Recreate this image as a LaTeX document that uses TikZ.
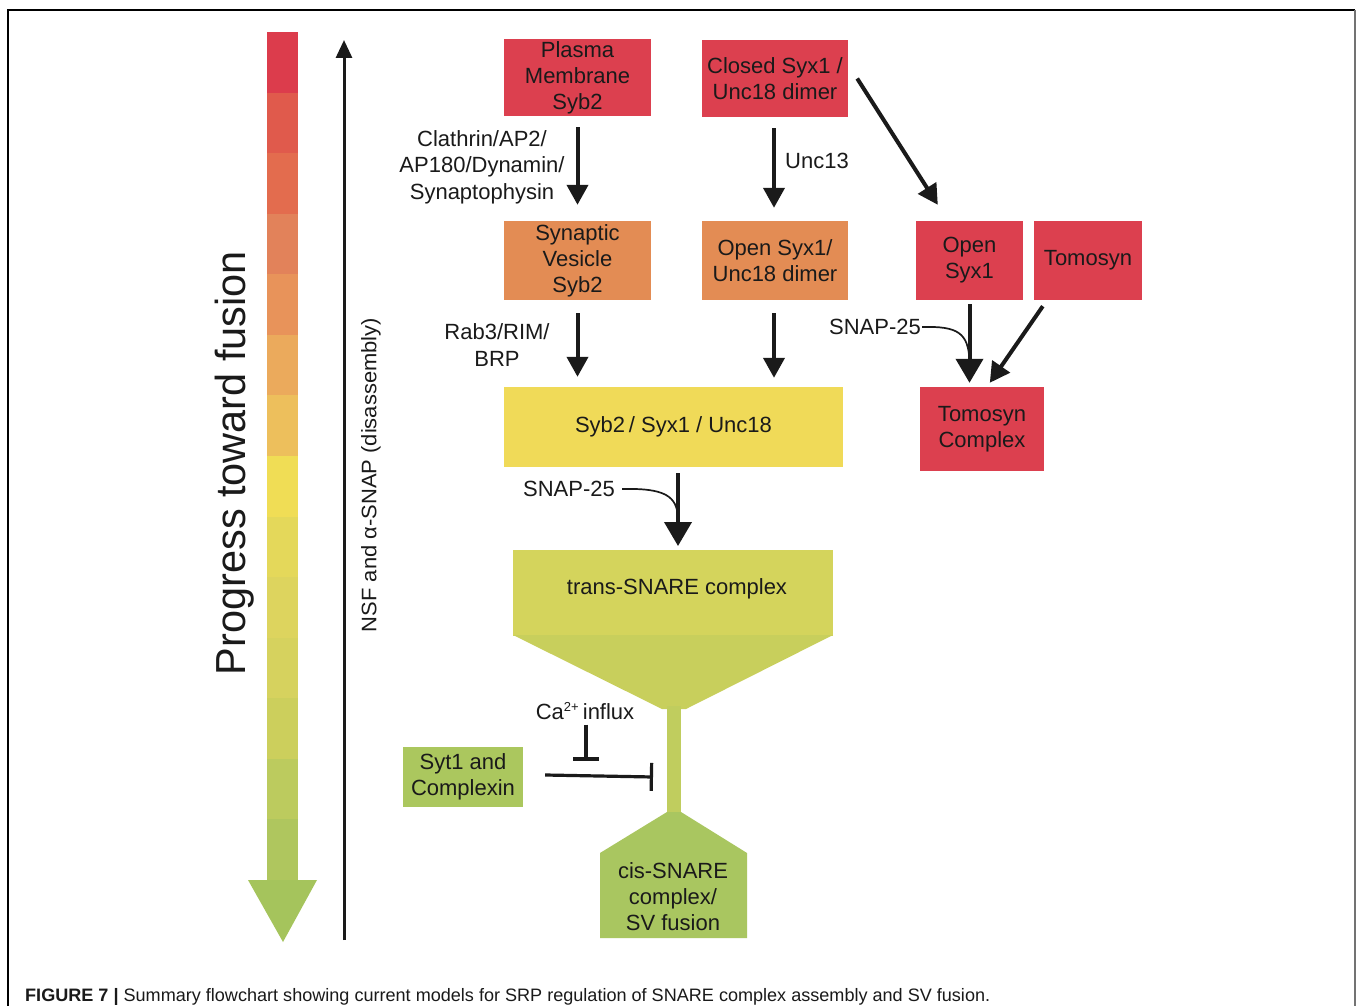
\documentclass[tikz,border=0pt]{standalone}
\usepackage{fontspec}
\setmainfont{Liberation Sans}
\usepackage{graphicx}
\usetikzlibrary{arrows.meta}
\definecolor{boxred}{RGB}{220,64,79}
\definecolor{boxorange}{RGB}{227,140,84}
\definecolor{boxyellow}{RGB}{240,218,88}
\definecolor{transtop}{RGB}{212,212,92}
\definecolor{translow}{RGB}{200,207,92}
\definecolor{stemcol}{RGB}{192,205,94}
\definecolor{ciscol}{RGB}{169,198,96}
\definecolor{sytcol}{RGB}{171,199,94}
\definecolor{txt}{RGB}{26,26,26}
\definecolor{g1}{RGB}{220,60,76}
\definecolor{g2}{RGB}{224,90,76}
\definecolor{g3}{RGB}{227,108,78}
\definecolor{g4}{RGB}{226,130,90}
\definecolor{g5}{RGB}{232,147,90}
\definecolor{g6}{RGB}{235,170,92}
\definecolor{g7}{RGB}{237,191,92}
\definecolor{g8}{RGB}{240,221,85}
\definecolor{g9}{RGB}{228,216,90}
\definecolor{g10}{RGB}{221,212,94}
\definecolor{g11}{RGB}{214,210,94}
\definecolor{g12}{RGB}{204,207,92}
\definecolor{g13}{RGB}{188,203,94}
\definecolor{g14}{RGB}{175,198,94}
\definecolor{g15}{RGB}{165,196,92}
\begin{document}
\begin{tikzpicture}[x=1pt,y=-1pt,
  box/.style={draw=none, align=center, inner sep=0pt, text=txt, font=\fontsize{22}{26}\selectfont},
  lbl/.style={align=center, inner sep=1pt, text=txt, font=\fontsize{22}{26.5}\selectfont},
  arr/.style={draw=txt, line width=4pt, -{Triangle[width=21pt,length=20pt]}},
  bigarr/.style={draw=txt, line width=4pt, -{Triangle[width=27pt,length=24pt]}},
  thin/.style={draw=txt, line width=1.7pt},
  inh/.style={draw=txt, line width=3.2pt, -{Bar[width=28pt,line width=3.2pt]}}
]
\useasboundingbox (0,0) rectangle (1358,1006);
\fill[white] (0,0) rectangle (1358,1006);
% frame
\draw[line width=1.3pt, black] (8,1006) -- (8,10) -- (1355,10);
\draw[line width=2pt, black!55] (1355,10) -- (1355,1006);

% gradient progress arrow
\foreach \c [count=\i from 0] in {g1,g2,g3,g4,g5,g6,g7,g8,g9,g10,g11,g12,g13,g14} {
  \fill[\c] (267,{32+\i*60.57}) rectangle (298,{32+(\i+1)*60.57+0.6});
}
\fill[g15] (248,880) -- (317,880) -- (283,942) -- cycle;
\node[rotate=90, inner sep=0pt, text=txt] (prog) at (235,463)
  {\resizebox{424pt}{\height}{\fontsize{42}{42}\selectfont Progress toward fusion}};

% NSF arrow
\coordinate (nsfBottom) at (344,940);
\coordinate (nsfTop) at (344,40);
\draw[draw=txt, line width=3pt, -{Triangle[width=16pt,length=18pt]}] (nsfBottom) -- (nsfTop);
\node[rotate=90, inner sep=0pt, text=txt] (nsf) at (371,475)
  {\resizebox{314pt}{\height}{\fontsize{21}{21}\selectfont NSF and α-SNAP (disassembly)}};

% boxes
\node[box, fill=boxred, minimum width=147pt, minimum height=77pt] (pm) at (577.5,77.5) {Plasma\\Membrane\\Syb2};
\node[box, fill=boxred, minimum width=146pt, minimum height=77pt] (closed) at (775,78.5) {Closed Syx1 /\\Unc18 dimer};
\node[box, fill=boxorange, minimum width=147pt, minimum height=79pt] (sv) at (577.5,260.5) {Synaptic\\Vesicle\\Syb2};
\node[box, fill=boxorange, minimum width=146pt, minimum height=79pt] (opendimer) at (775,260.5) {Open Syx1/\\Unc18 dimer};
\node[box, fill=boxred, minimum width=107pt, minimum height=79pt] (opensyx) at (969.5,260.5) {Open\\Syx1};
\node[box, fill=boxred, minimum width=108pt, minimum height=79pt] (tomosyn) at (1088,260.5) {Tomosyn};
\node[box, fill=boxred, minimum width=124pt, minimum height=84pt] (tomocomplex) at (982,429) {Tomosyn\\Complex};
\node[box, fill=boxyellow, minimum width=339pt, minimum height=80pt] (syb) at (673.5,427) {Syb2\,/ Syx1 / Unc18};
\node[box, fill=sytcol, minimum width=120pt, minimum height=60pt] (syt) at (463,777) {Syt1 and\\Complexin};

% funnel: trans-SNARE complex -> cis-SNARE complex
\fill[transtop] (513,550) -- (833,550) -- (833,636) -- (513,636) -- cycle;
\fill[translow] (513,635) -- (833,635) -- (686,709) -- (662,709) -- cycle;
\fill[stemcol] (667,706) rectangle (681,816);
\fill[ciscol] (667,812) -- (681,812) -- (747,853) -- (747,938) -- (600,938) -- (600,853) -- cycle;
\node[box] (trans) at (677,589) {trans-SNARE complex};
\node[box] (cis) at (673,897) {cis-SNARE\\complex/\\SV fusion};
\coordinate (transTop) at (678,550);
\coordinate (stemHit) at (653,777);

% labels
\node[lbl] (clath) at (482,167) {Clathrin/AP2/\\AP180/Dynamin/\\Synaptophysin};
\node[lbl, anchor=west] (unc13) at (784,161) {Unc13};
\node[lbl] (rab) at (497,345) {Rab3/RIM/\\BRP};
\node[lbl] (snapA) at (875,327) {SNAP-25};
\node[lbl] (snapB) at (569,489) {SNAP-25};
\node[lbl] (ca) at (585,711) {Ca\textsuperscript{\fontsize{13}{13}\selectfont 2+}\,influx};

% arrows
\draw[arr, shorten <=11pt, shorten >=16pt] (pm.south) -- (pm.south |- sv.north);
\draw[arr, shorten <=11pt, shorten >=13pt] ([xshift=-1pt]closed.south) -- ([xshift=-1pt]closed.south |- opendimer.north);
\draw[arr] ([xshift=9pt]closed.east) -- ([xshift=22pt,yshift=16pt]opensyx.north west);
\draw[arr, shorten <=13pt, shorten >=10pt] (sv.south) -- (sv.south |- syb.north);
\draw[arr, shorten <=13pt, shorten >=9pt] ([xshift=-1pt]opendimer.south) -- ([xshift=-1pt]opendimer.south |- syb.north);
\draw[bigarr, shorten <=4pt, shorten >=4pt] (opensyx.south) -- (opensyx.south |- tomocomplex.north);
\draw[arr] ([xshift=9pt,yshift=-6pt]tomosyn.south west) -- ([xshift=70pt,yshift=4pt]tomocomplex.north west);
\draw[thin] (snapA.east) .. controls (958,326) and (968,333) .. (969.5,360);
\draw[bigarr, shorten >=4pt] ([yshift=-6pt]syb.south -| transTop) -- (transTop);
\draw[thin] (snapB.east) ++(6,0) .. controls (665,488) and (677,496) .. (678,518);

% inhibitions
\draw[inh] ([xshift=22pt,yshift=2pt]syt.east) -- (stemHit);
\draw[draw=txt, line width=3.2pt, -{Bar[width=26pt,line width=3.2pt]}] (ca.south) ++(1,4) -- ++(0,36);

% caption
\node[anchor=base west, inner sep=0pt, text=txt] (caption) at (25,1001)
  {\resizebox{965pt}{\height}{\fontsize{18}{20}\selectfont\textbf{FIGURE 7 |} Summary flowchart showing current models for SRP regulation of SNARE complex assembly and SV fusion.}};
\end{tikzpicture}
\end{document}
